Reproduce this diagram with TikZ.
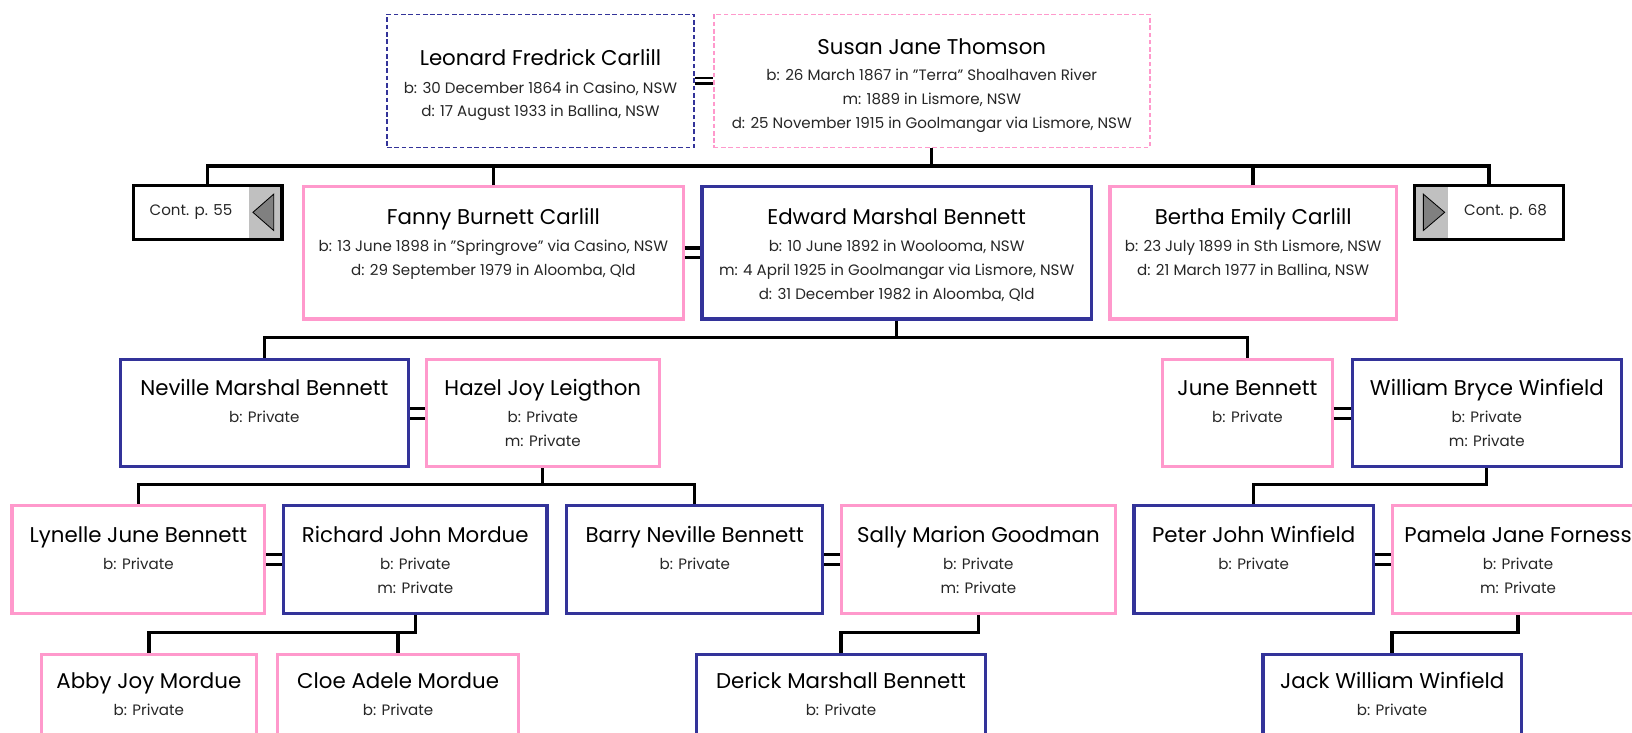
\documentclass[tikz,border=0pt]{standalone}
\usepackage{fontspec}
\setmainfont{Poppins}
\usepackage{xcolor}
\usetikzlibrary{positioning}

\definecolor{navy}{HTML}{333399}
\definecolor{rose}{HTML}{FF99CC}
\definecolor{panelgray}{HTML}{C0C0C0}
\definecolor{tipgray}{HTML}{808080}

\newcommand{\pname}[1]{{\fontsize{20.5}{26}\selectfont\color{black}\strut #1}}

\tikzset{
  box/.style={rectangle, anchor=north west, inner sep=0pt, line width=3pt},
  male/.style={box, draw=navy},
  female/.style={box, draw=rose},
  maleold/.style={box, draw=navy, line width=1.5pt, dash pattern=on 4.5pt off 2.5pt},
  femaleold/.style={box, draw=rose, line width=1.5pt, dash pattern=on 4.5pt off 2.5pt},
  info/.style={inner sep=0pt, align=center, font=\fontsize{14.5}{23}\selectfont, text=black!85},
  contbox/.style={rectangle, draw=black, line width=3.2pt, anchor=north west, outer sep=0pt,
    minimum width=143pt, minimum height=52pt, inner sep=0pt,
    font=\fontsize{14.5}{16}\selectfont, text=black!85},
  link/.style={line width=3.2pt, draw=black},
  wed/.style={double, line width=3pt, double distance=6.5pt},
  wedthin/.style={double, line width=2pt, double distance=3pt},
}

\begin{document}
\begin{tikzpicture}[x=1pt, y=-1pt]
    \useasboundingbox (0,0) rectangle (1568,704);
    \clip (0,0) rectangle (1568,704);

    % Parents
    \node[maleold, minimum width=295pt, minimum height=128pt] (leonard) at (371,13) {};
    \node[info, below=32pt of leonard.north] (leonardtxt) {\pname{Leonard Fredrick Carlill}\\[3pt]b: 30 December 1864 in Casino, NSW\\d: 17 August 1933 in Ballina, NSW};
    \node[femaleold, minimum width=419pt, minimum height=128pt] (susan) at (685,13) {};
    \node[info, below=21pt of susan.north] (susantxt) {\pname{Susan Jane Thomson}\\[2pt]b: 26 March 1867 in "Terra" Shoalhaven River\\m: 1889 in Lismore, NSW\\d: 25 November 1915 in Goolmangar via Lismore, NSW};
    \draw[wedthin] (leonard.east) -- (susan.west);

    % Children
    \node[contbox] (cont55) at (128,178) {Cont. p. 55\rule{32pt}{0pt}};
    \fill[panelgray] ([shift={(-32pt,-1.6pt)}]cont55.north east) rectangle ([shift={(-1.6pt,1.6pt)}]cont55.south east);
    \filldraw[fill=tipgray, draw=black, line width=0.8pt] ([xshift=-28pt]cont55.east) -- ([shift={(-8pt,17.5pt)}]cont55.east) -- ([shift={(-8pt,-17.5pt)}]cont55.east) -- cycle;

    \node[female, minimum width=365pt, minimum height=127pt] (fanny) at (290,178) {};
    \node[info, below=19pt of fanny.north] (fannytxt) {\pname{Fanny Burnett Carlill}\\[3pt]b: 13 June 1898 in "Springrove" via Casino, NSW\\d: 29 September 1979 in Aloomba, Qld};
    \node[male, minimum width=374pt, minimum height=127pt] (edward) at (673,178) {};
    \node[info, below=19pt of edward.north] (edwardtxt) {\pname{Edward Marshal Bennett}\\[3pt]b: 10 June 1892 in Woolooma, NSW\\m: 4 April 1925 in Goolmangar via Lismore, NSW\\d: 31 December 1982 in Aloomba, Qld};
    \draw[wed] (fanny.east) -- (edward.west);
    \node[female, minimum width=275pt, minimum height=127pt] (bertha) at (1065,178) {};
    \node[info, below=19pt of bertha.north] (berthatxt) {\pname{Bertha Emily Carlill}\\[3pt]b: 23 July 1899 in Sth Lismore, NSW\\d: 21 March 1977 in Ballina, NSW};

    \node[contbox] (cont68) at (1359,178) {\rule{32pt}{0pt}Cont. p. 68};
    \fill[panelgray] ([shift={(1.6pt,-1.6pt)}]cont68.north west) rectangle ([shift={(32pt,1.6pt)}]cont68.south west);
    \filldraw[fill=tipgray, draw=black, line width=0.8pt] ([xshift=29pt]cont68.west) -- ([shift={(8.5pt,17.5pt)}]cont68.west) -- ([shift={(8.5pt,-17.5pt)}]cont68.west) -- cycle;

    % Grandchildren
    \node[male, minimum width=277pt, minimum height=103pt] (neville) at (114,344) {};
    \node[info, below=18pt of neville.north] (nevilletxt) {\pname{Neville Marshal Bennett}\\[3pt]b: Private};
    \node[female, minimum width=224pt, minimum height=103pt] (hazel) at (408,344) {};
    \node[info, below=18pt of hazel.north] (hazeltxt) {\pname{Hazel Joy Leigthon}\\[3pt]b: Private\\m: Private};
    \draw[wed] (neville.east) -- (hazel.west);
    \node[female, minimum width=164pt, minimum height=103pt] (june) at (1115,344) {};
    \node[info, below=18pt of june.north] (junetxt) {\pname{June Bennett}\\[3pt]b: Private};
    \node[male, minimum width=258pt, minimum height=103pt] (william) at (1298,344) {};
    \node[info, below=18pt of william.north] (williamtxt) {\pname{William Bryce Winfield}\\[3pt]b: Private\\m: Private};
    \draw[wed] (june.east) -- (william.west);

    % Great-grandchildren
    \node[female, minimum width=243pt, minimum height=104pt] (lynelle) at (10,484) {};
    \node[info, below=19pt of lynelle.north] (lynelletxt) {\pname{Lynelle June Bennett}\\[3pt]b: Private};
    \node[male, minimum width=253pt, minimum height=104pt] (richard) at (271,484) {};
    \node[info, below=19pt of richard.north] (richardtxt) {\pname{Richard John Mordue}\\[3pt]b: Private\\m: Private};
    \draw[wed] (lynelle.east) -- (richard.west);
    \node[male, minimum width=246pt, minimum height=104pt] (barry) at (543,484) {};
    \node[info, below=19pt of barry.north] (barrytxt) {\pname{Barry Neville Bennett}\\[3pt]b: Private};
    \node[female, minimum width=263pt, minimum height=104pt] (sally) at (807,484) {};
    \node[info, below=19pt of sally.north] (sallytxt) {\pname{Sally Marion Goodman}\\[3pt]b: Private\\m: Private};
    \draw[wed] (barry.east) -- (sally.west);
    \node[male, minimum width=230pt, minimum height=104pt] (peter) at (1088,484) {};
    \node[info, below=19pt of peter.north] (petertxt) {\pname{Peter John Winfield}\\[3pt]b: Private};
    \node[female, minimum width=242pt, minimum height=104pt] (pamela) at (1336,484) {};
    \node[info, below=19pt of pamela.north] (pamelatxt) {\pname{Pamela Jane Forness}\\[3pt]b: Private\\m: Private};
    \draw[wed] (peter.east) -- (pamela.west);

    % Last row
    \node[female, minimum width=207pt, minimum height=104pt] (abby) at (38,627) {};
    \node[info, below=16pt of abby.north] (abbytxt) {\pname{Abby Joy Mordue}\\[3pt]b: Private};
    \node[female, minimum width=232pt, minimum height=104pt] (cloe) at (265,627) {};
    \node[info, below=16pt of cloe.north] (cloetxt) {\pname{Cloe Adele Mordue}\\[3pt]b: Private};
    \node[male, minimum width=277pt, minimum height=104pt] (derick) at (668,627) {};
    \node[info, below=16pt of derick.north] (dericktxt) {\pname{Derick Marshall Bennett}\\[3pt]b: Private};
    \node[male, minimum width=248pt, minimum height=104pt] (jack) at (1212,627) {};
    \node[info, below=16pt of jack.north] (jacktxt) {\pname{Jack William Winfield}\\[3pt]b: Private};

    % Descent lines
    \coordinate (lvl1) at (0,159.5);
    \coordinate (lvl2) at (0,324.5);
    \coordinate (lvl3) at (0,465.5);
    \coordinate (lvl4) at (0,607.5);
    \draw[link] (susan.south) -- (susan |- lvl1) -| (cont55.north);
    \draw[link] (susan |- lvl1) -| (cont68.north);
    \draw[link] (fanny.north) -- (fanny |- lvl1);
    \draw[link] (bertha.north) -- (bertha |- lvl1);
    \draw[link] (edward.south) -- (edward |- lvl2) -| (neville.north);
    \draw[link] (edward |- lvl2) -| (june.north);
    \draw[link] (hazel.south) -- (hazel |- lvl3) -| (lynelle.north);
    \draw[link] (hazel |- lvl3) -| (barry.north);
    \draw[link] (william.south) -- (william |- lvl3) -| (peter.north);
    \draw[link] (richard.south) -- (richard |- lvl4) -| (abby.north);
    \draw[link] (cloe.north) -- (cloe |- lvl4);
    \draw[link] (sally.south) -- (sally |- lvl4) -| (derick.north);
    \draw[link] (pamela.south) -- (pamela |- lvl4) -| (jack.north);
\end{tikzpicture}
\end{document}
